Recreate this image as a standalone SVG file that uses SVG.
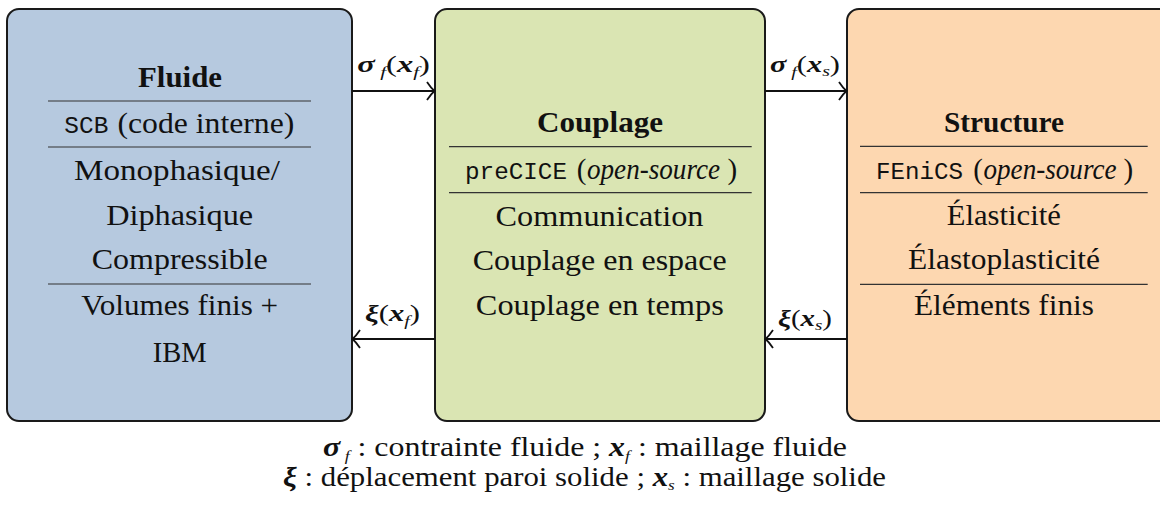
<svg xmlns="http://www.w3.org/2000/svg" width="1160" height="505" viewBox="0 0 1160 505">
<style>
.box{stroke:#1a1a1a;stroke-width:2}
.sep{stroke:#333;stroke-width:1.2}
text{font-family:"Liberation Serif","Times New Roman","DejaVu Serif",serif;fill:#111}
.t{font-size:29px}
.c{text-anchor:middle}
.b{font-weight:bold}
.m{font-family:"Liberation Mono","Courier New",monospace;font-size:24.5px}
.it{font-style:italic}
.bi{font-weight:bold;font-style:italic}
.lab{font-size:23px}
.sub{font-size:15px;font-style:italic}
.leg{font-size:27px}
.arr{stroke:#111;stroke-width:1.8;fill:none}
</style>
<g id="fluide">
<rect class="box" x="7" y="9" width="345" height="412" rx="12" fill="#B6C9DF"/>
<text class="t c b" x="180" y="87" textLength="84" lengthAdjust="spacingAndGlyphs">Fluide</text>
<line class="sep" x1="48" y1="101" x2="311" y2="101"/>
<text class="m" x="64.3" y="133" textLength="44" lengthAdjust="spacingAndGlyphs">SCB</text>
<text class="t" x="117.5" y="133" textLength="176.8" lengthAdjust="spacingAndGlyphs">(code interne)</text>
<line class="sep" x1="48" y1="147" x2="311" y2="147"/>
<text class="t c" x="177" y="180" textLength="206" lengthAdjust="spacingAndGlyphs">Monophasique/</text>
<text class="t c" x="179.7" y="225" textLength="147" lengthAdjust="spacingAndGlyphs">Diphasique</text>
<text class="t c" x="179.7" y="269" textLength="176" lengthAdjust="spacingAndGlyphs">Compressible</text>
<line class="sep" x1="48" y1="284" x2="311" y2="284"/>
<text class="t c" x="179.7" y="315" textLength="197" lengthAdjust="spacingAndGlyphs">Volumes finis +</text>
<text class="t c" x="179.7" y="362" textLength="54" lengthAdjust="spacingAndGlyphs">IBM</text>
</g>
<g id="couplage">
<rect class="box" x="435" y="9" width="330" height="412" rx="12" fill="#DAE5B3"/>
<text class="t c b" x="600" y="132" textLength="126" lengthAdjust="spacingAndGlyphs">Couplage</text>
<line class="sep" x1="449" y1="146.7" x2="751.7" y2="146.7"/>
<text class="m" x="465" y="179" textLength="102" lengthAdjust="spacingAndGlyphs">preCICE</text>
<text class="t" x="576.7" y="179">(</text>
<text class="t it" x="587" y="179" textLength="133" lengthAdjust="spacingAndGlyphs">open-source</text>
<text class="t" x="727.5" y="179">)</text>
<line class="sep" x1="449" y1="192.7" x2="751.7" y2="192.7"/>
<text class="t c" x="599.5" y="226" textLength="208" lengthAdjust="spacingAndGlyphs">Communication</text>
<text class="t c" x="599.7" y="270" textLength="254" lengthAdjust="spacingAndGlyphs">Couplage en espace</text>
<text class="t c" x="599.8" y="315" textLength="248" lengthAdjust="spacingAndGlyphs">Couplage en temps</text>
</g>
<g id="structure">
<rect class="box" x="847" y="9" width="335" height="412" rx="12" fill="#FDD7B0"/>
<text class="t c b" x="1004" y="132" textLength="120" lengthAdjust="spacingAndGlyphs">Structure</text>
<line class="sep" x1="860" y1="146.3" x2="1147.7" y2="146.3"/>
<text class="m" x="876" y="179" textLength="87" lengthAdjust="spacingAndGlyphs">FEniCS</text>
<text class="t" x="973.3" y="179">(</text>
<text class="t it" x="983.5" y="179" textLength="133" lengthAdjust="spacingAndGlyphs">open-source</text>
<text class="t" x="1123.5" y="179">)</text>
<line class="sep" x1="860" y1="192.7" x2="1147.7" y2="192.7"/>
<text class="t c" x="1003.8" y="225" textLength="114" lengthAdjust="spacingAndGlyphs">Élasticité</text>
<text class="t c" x="1004" y="269" textLength="192" lengthAdjust="spacingAndGlyphs">Élastoplasticité</text>
<line class="sep" x1="860" y1="284.3" x2="1147.7" y2="284.3"/>
<text class="t c" x="1004" y="315" textLength="180" lengthAdjust="spacingAndGlyphs">Éléments finis</text>
</g>
<g id="connectors">
<line class="arr" x1="352" y1="91" x2="434" y2="91"/>
<path class="arr" d="M427,82 Q431,88 434.5,91 Q431,94 427,100"/>
<text class="lab" x="357.3" y="72" textLength="72.7" lengthAdjust="spacingAndGlyphs"><tspan class="bi">σ</tspan><tspan class="sub" dy="5"> f</tspan><tspan dy="-5">(</tspan><tspan class="bi">x</tspan><tspan class="sub" dy="5">f</tspan><tspan dy="-5">)</tspan></text>
<line class="arr" x1="765" y1="91" x2="846" y2="91"/>
<path class="arr" d="M839,82 Q843,88 846.5,91 Q843,94 839,100"/>
<text class="lab" x="770" y="72" textLength="70" lengthAdjust="spacingAndGlyphs"><tspan class="bi">σ</tspan><tspan class="sub" dy="5"> f</tspan><tspan dy="-5">(</tspan><tspan class="bi">x</tspan><tspan class="sub" dy="4">s</tspan><tspan dy="-4">)</tspan></text>
<line class="arr" x1="353" y1="339" x2="435" y2="339"/>
<path class="arr" d="M360,330 Q356,336 352.5,339 Q356,342 360,348"/>
<text class="lab" x="365" y="321" textLength="55" lengthAdjust="spacingAndGlyphs"><tspan class="bi">ξ</tspan>(<tspan class="bi">x</tspan><tspan class="sub" dy="5">f</tspan><tspan dy="-5">)</tspan></text>
<line class="arr" x1="766" y1="339" x2="847" y2="339"/>
<path class="arr" d="M773,330 Q769,336 765.5,339 Q769,342 773,348"/>
<text class="lab" x="778" y="326" textLength="54" lengthAdjust="spacingAndGlyphs"><tspan class="bi">ξ</tspan>(<tspan class="bi">x</tspan><tspan class="sub" dy="4">s</tspan><tspan dy="-4">)</tspan></text>
</g>
<g id="legend">
<text class="leg" x="323" y="456" textLength="524" lengthAdjust="spacingAndGlyphs"><tspan class="bi">σ</tspan><tspan class="sub" dy="5"> f</tspan><tspan dy="-5"> : contrainte fluide ; </tspan><tspan class="bi">x</tspan><tspan class="sub" dy="5">f</tspan><tspan dy="-5"> : maillage fluide</tspan></text>
<text class="leg" x="283" y="486" textLength="603" lengthAdjust="spacingAndGlyphs"><tspan class="bi">ξ</tspan><tspan> : déplacement paroi solide ; </tspan><tspan class="bi">x</tspan><tspan class="sub" dy="4">s</tspan><tspan dy="-4"> : maillage solide</tspan></text>
</g>
</svg>
